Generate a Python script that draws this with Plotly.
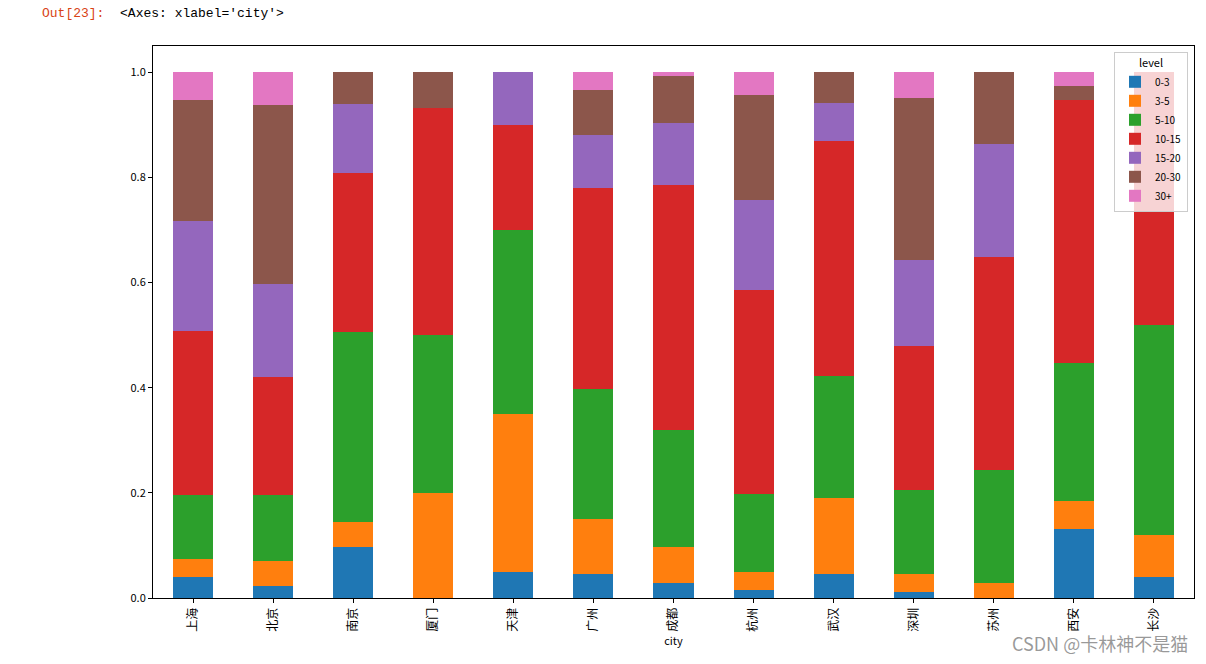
import plotly.graph_objects as go

cities = ["上海", "北京", "南京", "厦门", "天津", "广州", "成都", "杭州", "武汉", "深圳", "苏州", "西安", "长沙"]
levels = ["0-3", "3-5", "5-10", "10-15", "15-20", "20-30", "30+"]

lv_0_3 = [0.040, 0.023, 0.097, 0.000, 0.050, 0.045, 0.029, 0.016, 0.045, 0.012, 0.000, 0.131, 0.040]
lv_3_5 = [0.034, 0.047, 0.048, 0.200, 0.300, 0.105, 0.068, 0.034, 0.145, 0.034, 0.028, 0.053, 0.080]
lv_5_10 = [0.121, 0.125, 0.361, 0.300, 0.350, 0.247, 0.222, 0.148, 0.232, 0.159, 0.216, 0.263, 0.400]
lv_10_15 = [0.313, 0.225, 0.302, 0.433, 0.200, 0.382, 0.466, 0.388, 0.447, 0.274, 0.405, 0.500, 0.480]
lv_15_20 = [0.210, 0.177, 0.131, 0.000, 0.100, 0.102, 0.118, 0.171, 0.073, 0.164, 0.215, 0.000, 0.000]
lv_20_30 = [0.230, 0.340, 0.061, 0.067, 0.000, 0.085, 0.089, 0.199, 0.058, 0.308, 0.136, 0.026, 0.000]
lv_30p = [0.052, 0.063, 0.000, 0.000, 0.000, 0.034, 0.008, 0.044, 0.000, 0.049, 0.000, 0.027, 0.000]

series = [lv_0_3, lv_3_5, lv_5_10, lv_10_15, lv_15_20, lv_20_30, lv_30p]
colors = ["#1f77b4", "#ff7f0e", "#2ca02c", "#d62728", "#9467bd", "#8c564b", "#e377c2"]
y_ticks = [0.0, 0.2, 0.4, 0.6, 0.8, 1.0]

fig = go.Figure()
for name, vals, col in zip(levels, series, colors):
    fig.add_trace(go.Bar(x=list(range(len(cities))), y=vals, name=name, width=0.5,
                         marker=dict(color=col, line=dict(width=0))))

L, R, T, B = 153, 12, 46, 66
W, H = 1206, 664
pw, ph = W - L - R, H - T - B

font_cjk = "Noto Sans CJK SC, DejaVu Sans, sans-serif"

fig.update_layout(
    width=W, height=H,
    barmode="stack",
    paper_bgcolor="white", plot_bgcolor="white",
    margin=dict(l=L, r=R, t=T, b=B, pad=0),
    font=dict(family=font_cjk, size=11, color="black"),
    xaxis=dict(range=[-0.5, 12.5], tickmode="array", tickvals=list(range(len(cities))),
               ticktext=cities, tickangle=-90, ticks="outside", ticklen=4, tickcolor="black",
               showline=True, mirror=True, linecolor="black", linewidth=1, showgrid=False,
               zeroline=False, tickfont=dict(size=12),
               title=dict(text="city", font=dict(size=11), standoff=4)),
    yaxis=dict(range=[0, 1.05], tickmode="array", tickvals=y_ticks,
               ticktext=[f"{v:.1f}" for v in y_ticks], ticks="outside", ticklen=4,
               tickcolor="black", showline=True, mirror=True, linecolor="black", linewidth=1,
               showgrid=False, zeroline=False, tickfont=dict(size=11)),
    legend=dict(x=(1188 - L) / pw, xanchor="right", y=(H - B - 52) / ph, yanchor="top",
                bgcolor="rgba(255,255,255,0.8)", bordercolor="#cccccc", borderwidth=1,
                traceorder="normal", font=dict(size=10),
                title=dict(text="level", side="top center", font=dict(size=11)),
                itemsizing="constant", tracegroupgap=0),
    showlegend=True,
)

fig.add_annotation(xref="paper", yref="paper", x=(40 - L) / pw, y=(H - B - 13) / ph,
                   xanchor="left", yanchor="middle", showarrow=False,
                   text="<span style='color:#D84315'>Out[23]:</span>&nbsp;&nbsp;&lt;Axes: xlabel='city'&gt;",
                   font=dict(family="Liberation Mono, DejaVu Sans Mono, monospace", size=13, color="black"))

fig.add_annotation(xref="paper", yref="paper", x=(1190 - L) / pw, y=(H - B - 643) / ph,
                   xanchor="right", yanchor="middle", showarrow=False,
                   text="CSDN @卡林神不是猫",
                   font=dict(family=font_cjk, size=18, color="rgba(120,120,120,0.75)"))

fig.write_html("out.html", config={"displayModeBar": False},
               post_script="document.body.style.margin='0px';document.body.style.overflow='hidden';")
